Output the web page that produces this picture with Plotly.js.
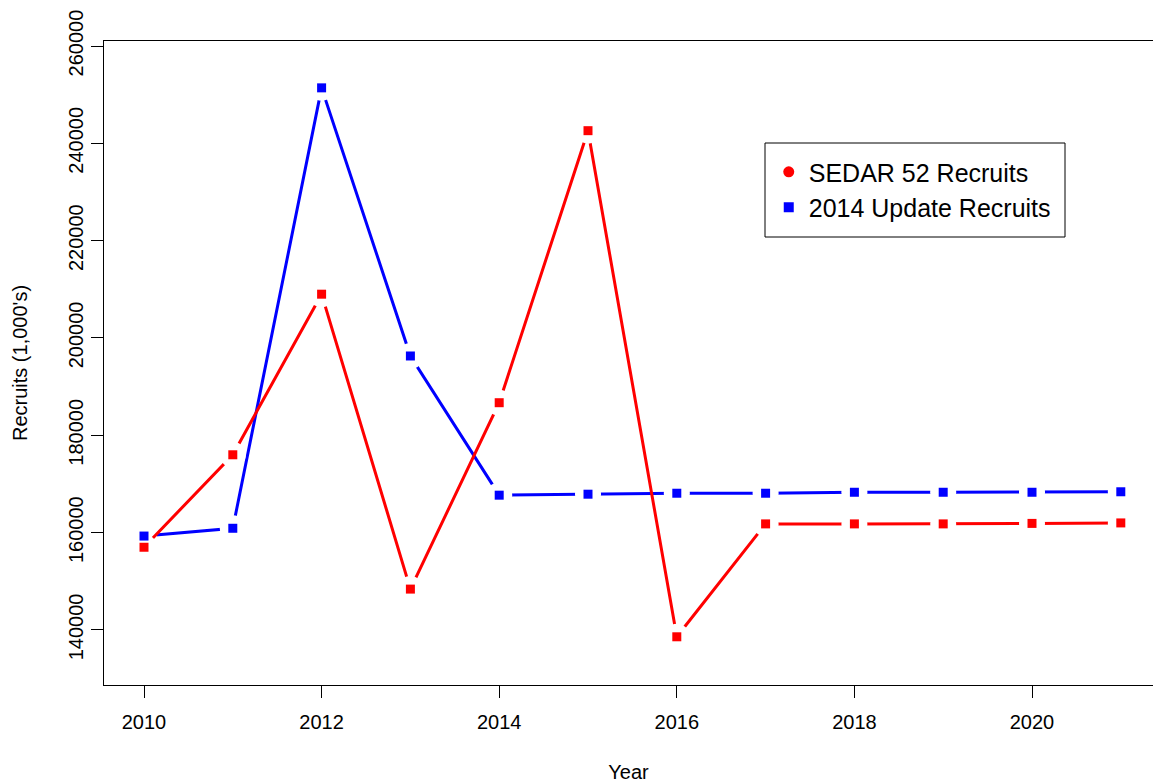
<!DOCTYPE html>
<html>
<head>
<meta charset="utf-8">
<script src="https://cdn.plot.ly/plotly-3.0.1.min.js"></script>
<style>html,body{margin:0;padding:0;background:#fff;}#chart{width:1153px;height:783px;}</style>
</head>
<body>
<div id="chart"></div>
<script>
const years = [2010, 2011, 2012, 2013, 2014, 2015, 2016, 2017, 2018, 2019, 2020, 2021];
const sedar52 = [157000, 176000, 209000, 148400, 186700, 242600, 138600, 161800, 161800, 161800, 161900, 162000];
const update2014 = [159300, 160900, 251400, 196300, 167700, 167900, 168100, 168100, 168300, 168300, 168300, 168400];
const xTicks = [2010, 2012, 2014, 2016, 2018, 2020];
const yTicks = [140000, 160000, 180000, 200000, 220000, 240000, 260000];
const seriesNames = ["SEDAR 52 Recruits", "2014 Update Recruits"];
const RED = "#ff0000", BLUE = "#0000ff";
const FONT = "Liberation Sans, Arial, sans-serif";

function lineTrace(y, color) {
  return {x: years, y: y, mode: "lines", line: {color: color, width: 3}, showlegend: false, hoverinfo: "skip"};
}
function gapTrace(y) {
  return {x: years, y: y, mode: "markers", marker: {symbol: "circle", size: 26, color: "#ffffff"}, showlegend: false, hoverinfo: "skip"};
}
function markTrace(y, color) {
  return {x: years, y: y, mode: "markers", marker: {symbol: "square", size: 9, color: color}, showlegend: false};
}

const data = [
  lineTrace(update2014, BLUE), gapTrace(update2014),
  lineTrace(sedar52, RED), gapTrace(sedar52),
  markTrace(sedar52, RED), markTrace(update2014, BLUE),
  {x: [null], y: [null], mode: "markers", name: seriesNames[0], marker: {symbol: "circle", size: 11, color: RED}},
  {x: [null], y: [null], mode: "markers", name: seriesNames[1], marker: {symbol: "square", size: 10, color: BLUE}}
];

const layout = {
  width: 1153, height: 783,
  margin: {l: 104, r: 0, t: 41, b: 98, pad: 0},
  paper_bgcolor: "#fff", plot_bgcolor: "#fff",
  font: {family: FONT, size: 20, color: "#000"},
  showlegend: true,
  legend: {x: 0.6337, y: 0.8322, xanchor: "left", yanchor: "top", bgcolor: "rgba(0,0,0,0)", borderwidth: 0,
           font: {family: FONT, size: 25, color: "#000"}, tracegroupgap: 0},
  xaxis: {range: [2009.5495, 2021.3626], tickvals: xTicks, ticktext: xTicks.map(String),
          ticks: "outside", ticklen: 12, tickwidth: 1, tickcolor: "#000", ticklabelstandoff: 7,
          showline: true, linecolor: "#000", linewidth: 1, mirror: true,
          showgrid: false, zeroline: false, tickfont: {family: FONT, size: 20, color: "#000"},
          title: {text: "Year", font: {family: FONT, size: 20, color: "#000"}, standoff: 32}, automargin: false},
  yaxis: {range: [128694, 261027], tickvals: yTicks, ticktext: yTicks.map(String), tickangle: -90,
          ticks: "outside", ticklen: 12, tickwidth: 1, tickcolor: "#000",
          showline: true, linecolor: "#000", linewidth: 1, mirror: false,
          showgrid: false, zeroline: false, tickfont: {family: FONT, size: 20, color: "#000"},
          title: {text: "Recruits (1,000's)", font: {family: FONT, size: 20, color: "#000"}, standoff: 32}, automargin: false},
  shapes: [{type: "rect", xref: "paper", yref: "paper",
            x0: (765 - 104) / 1049, x1: (1065 - 104) / 1049, y0: (685 - 237) / 644, y1: (685 - 143) / 644,
            line: {color: "#000", width: 1}, fillcolor: "rgba(0,0,0,0)"}]
};

Plotly.newPlot("chart", data, layout, {displayModeBar: false, staticPlot: true});
</script>
</body>
</html>
